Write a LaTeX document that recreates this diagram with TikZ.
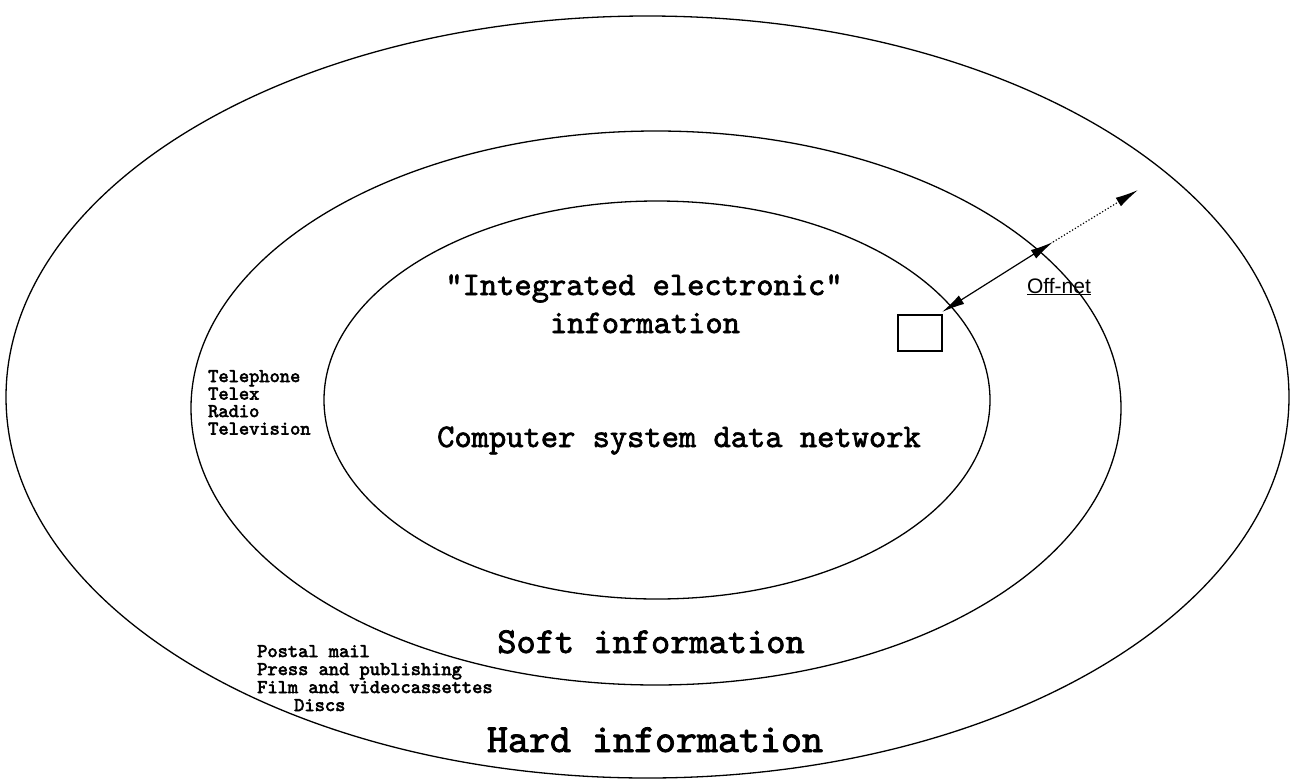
\documentclass[tikz,border=0pt]{standalone}
\usepackage{fontspec}
\newfontfamily\courfont[FakeBold=2]{lmmono10-regular.otf}
\newfontfamily\courfontsmall[FakeBold=3]{lmmono10-regular.otf}
\newfontfamily\offfont{Liberation Sans}
\usetikzlibrary{arrows.meta}
\tikzset{
  ring/.style={draw=black, line width=1.3pt},
  bigtext/.style={font=\courfont\fontsize{#1}{#1}\selectfont, anchor=base, inner sep=0pt},
  smalllist/.style={font=\courfontsmall\fontsize{19.5}{19.5}\selectfont, anchor=base west, inner sep=0pt},
  netbox/.style={draw=black, line width=1.3pt, minimum width=44pt, minimum height=36pt, inner sep=0pt},
  tip/.style={-{Latex[length=23pt,width=10pt]}},
}
\begin{document}
\begin{tikzpicture}[x=1pt,y=-1pt]
\useasboundingbox (0,0) rectangle (1294,782);
% ellipses
\draw[ring] (647.5,397) ellipse [x radius=641.5, y radius=381];
\draw[ring] (656,408) ellipse [x radius=465, y radius=277];
\draw[ring] (657,400) ellipse [x radius=333, y radius=199];
% main labels
\node[bigtext=32.9] (ie1) at (644,295) {"Integrated electronic"};
\node[bigtext=32.9] (ie2) at (645,333) {information};
\node[bigtext=32.9] (csdn) at (679,447) {Computer system data network};
\node[bigtext=36.6] (soft) at (651,653) {Soft information};
\node[bigtext=40] (hard) at (655,752) {Hard information};
% lists
\node[smalllist] (tel1) at (208,382) {Telephone};
\node[smalllist] (tel2) at (208,399.5) {Telex};
\node[smalllist] (tel3) at (208,417) {Radio};
\node[smalllist] (tel4) at (208,434.5) {Television};
\node[smalllist] (post1) at (257,657) {Postal mail};
\node[smalllist] (post2) at (257,675) {Press and publishing};
\node[smalllist] (post3) at (257,693) {Film and videocassettes};
\node[smalllist] (post4) at (294,711) {Discs};
% box and arrows
\node[netbox] (box) at (920,333) {};
\coordinate (a) at (942,312);
\coordinate (b) at (1053,242);
\coordinate (c) at (1138,190);
\draw[line width=1.2pt, {Latex[length=23pt,width=10pt]}-{Latex[length=23pt,width=10pt]}] (a) -- (b);
\draw[line width=1.2pt, dotted, tip] (b) -- (c);
\node[font=\offfont\fontsize{21}{21}\selectfont, anchor=base, inner sep=0pt] (off) at (1059,293) {\underline{Off-net}};
\end{tikzpicture}
\end{document}
